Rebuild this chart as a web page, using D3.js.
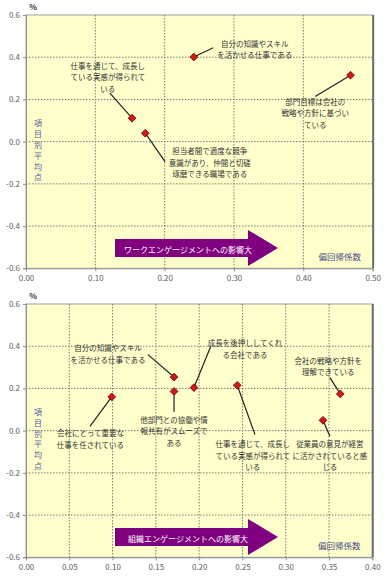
<!DOCTYPE html>
<html><head><meta charset="utf-8">
<script src="https://cdn.jsdelivr.net/npm/d3@7"></script>
<style>body{margin:0;background:#fff}svg{display:block}</style>
</head><body>
<svg id="c" width="388" height="578"></svg>
<script>
// ---- data ----
const topItems = ["自分の知識やスキルを活かせる仕事である","部門目標は会社の戦略や方針に基づいている","仕事を通じて、成長している実感が得られている","担当者間で適度な競争意識があり、仲間と切磋琢磨できる職場である"];
const topCoef = [0.242, 0.468, 0.153, 0.172];
const topScore = [0.401, 0.315, 0.111, 0.040];
const topLabels = [["自分の知識やスキル","を活かせる仕事である"],["部門目標は会社の","戦略や方針に基づい","ている"],["仕事を通じて、成長し","ている実感が得られて","いる"],["担当者間で適度な競争","意識があり、仲間と切磋","琢磨できる職場である"]];

const botItems = ["会社にとって重要な仕事を任されている","自分の知識やスキルを活かせる仕事である","他部門との協働や情報共有がスムーズである","成長を後押ししてくれる会社である","仕事を通じて、成長している実感が得られている","会社の戦略や方針を理解できている","従業員の意見が経営に活かされていると感じる"];
const botCoef = [0.099, 0.171, 0.171, 0.194, 0.244, 0.363, 0.343];
const botScore = [0.160, 0.254, 0.186, 0.204, 0.215, 0.174, 0.049];
const botLabels = [["会社にとって重要な","仕事を任されている"],["自分の知識やスキル","を活かせる仕事である"],["他部門との協働や情","報共有がスムーズで","ある"],["成長を後押ししてくれ","る会社である"],["仕事を通じて、成長し","ている実感が得られて","いる"],["会社の戦略や方針を","理解できている"],["従業員の意見が経営","に活かされていると感","じる"]];

const yTicks = [0.6, 0.4, 0.2, 0.0, -0.2, -0.4, -0.6];
const yTickLabels = ["0.6","0.4","0.2","0.0","-0.2","-0.4","-0.6"];
const topXTicks = [0, 0.1, 0.2, 0.3, 0.4, 0.5];
const botXTicks = [0, 0.05, 0.1, 0.15, 0.2, 0.25, 0.3, 0.35, 0.4];
const yTitle = "項目別平均点";
const xTitle = "偏回帰係数";
const unit = "%";
const topArrowText = "ワークエンゲージメントへの影響大";
const botArrowText = "組織エンゲージメントへの影響大";

// ---- layout (label anchors in data units: [labelX, labelY, leaderEndX, leaderEndY]) ----
const topAnno = [[0.330,0.467,0.270,0.445],[0.417,0.190,0.417,0.214],[0.118,0.361,0.121,0.230],[0.265,-0.044,0.2005,-0.095]];
const botAnno = [[0.0745,-0.011,0.0739,0.020],[0.0947,0.392,0.1409,0.360],[0.171,0.052,0.171,0.090],[0.253,0.4156,0.2133,0.399],[0.262,-0.063,0.2645,-0.019],[0.349,0.332,0.351,0.251],[0.351,-0.063,0.351,-0.027]];

const FONT = "'Noto Sans CJK JP','Noto Sans',sans-serif";
const svg = d3.select("#c").style("font-family", FONT);

function chart(opt){
  const g = svg.append("g");
  const x = d3.scaleLinear().domain(opt.xDomain).range([26, opt.xRight]);
  const y = d3.scaleLinear().domain([-0.6, 0.6]).range([opt.yBottom, opt.yTop]);
  g.append("rect").attr("x", x.range()[0]).attr("y", opt.yTop)
    .attr("width", x.range()[1]-x.range()[0]).attr("height", opt.yBottom-opt.yTop)
    .attr("fill", "#ffffcc").attr("stroke", "#a0a0a0").attr("stroke-width", 1);
  g.append("g").selectAll("line").data(opt.xTicks.slice(1,-1)).join("line")
    .attr("x1", d=>x(d)).attr("x2", d=>x(d)).attr("y1", opt.yTop).attr("y2", opt.yBottom)
    .attr("stroke", "#7a7a7a").attr("stroke-dasharray", "1.5,1.5");
  g.append("g").selectAll("line").data(yTicks.slice(1,-1)).join("line")
    .attr("y1", d=>y(d)).attr("y2", d=>y(d)).attr("x1", x.range()[0]).attr("x2", x.range()[1])
    .attr("stroke", "#7a7a7a").attr("stroke-dasharray", "1.5,1.5");
  g.append("line").attr("x1", x.range()[1]+0.5).attr("x2", x.range()[1]+0.5)
    .attr("y1", opt.yTop).attr("y2", opt.yBottom).attr("stroke", "#707070").attr("stroke-width", 2);
  const ya = d3.axisLeft(y).tickValues(yTicks).tickFormat((d,i)=>yTickLabels[i]).tickSize(3).tickPadding(3);
  const yg = g.append("g").attr("transform", `translate(${x.range()[0]},0)`).call(ya);
  const xa = d3.axisBottom(x).tickValues(opt.xTicks).tickFormat(d3.format(".2f")).tickSize(3).tickPadding(4);
  const xg = g.append("g").attr("transform", `translate(0,${opt.yBottom})`).call(xa);
  [yg, xg].forEach(a => {
    a.select(".domain").attr("stroke", "#909090");
    a.selectAll(".tick line").attr("stroke", "#909090");
    a.selectAll("text").attr("fill", "#606060").style("font-size", "8px").style("font-family", FONT);
  });
  g.append("text").attr("x", 33).attr("y", opt.yTop-5).attr("text-anchor", "middle")
    .attr("fill", "#333").style("font-size", "8px").style("font-weight", "bold").text(unit);
  g.append("g").selectAll("text").data(Array.from(yTitle)).join("text")
    .attr("x", 38).attr("y", (d,i)=> y(opt.yTitleStart) + i*10.8)
    .attr("text-anchor", "middle").attr("dominant-baseline", "central")
    .attr("fill", "#5a5aa0").style("font-size", "8px").text(d=>d);
  g.append("text").attr("x", x.range()[1]-33).attr("y", opt.yBottom-12)
    .attr("text-anchor", "middle").attr("dominant-baseline", "central")
    .attr("fill", "#4a4a86").style("font-size", "8.5px").text(xTitle);
  const ac = opt.arrowY;
  const ar = g.append("g");
  ar.append("path").attr("d", `M115,${ac-9}L248,${ac-9}L248,${ac-18}L278,${ac}L248,${ac+18}L248,${ac+9}L115,${ac+9}Z`)
    .attr("fill", "#800080");
  ar.append("text").attr("x", 188).attr("y", ac+1).attr("text-anchor", "middle").attr("dominant-baseline", "central")
    .attr("fill", "#fff").style("font-size", "8px").text(opt.arrowText);
  g.append("g").selectAll("line").data(opt.coef).join("line")
    .attr("x1", (d,i)=>x(d)).attr("y1", (d,i)=>y(opt.score[i]))
    .attr("x2", (d,i)=>x(opt.anno[i][2])).attr("y2", (d,i)=>y(opt.anno[i][3]))
    .attr("stroke", "#222").attr("stroke-width", 1.2);
  opt.labels.forEach((lines, i) => {
    const t = g.append("text").attr("text-anchor", "middle").attr("fill", "#333")
      .style("font-size", "7.5px");
    lines.forEach((ln, j) => {
      t.append("tspan").attr("x", x(opt.anno[i][0])).attr("y", y(opt.anno[i][1]) + j*11.3)
        .attr("dominant-baseline", "central").text(ln);
    });
  });
  g.append("g").selectAll("path").data(opt.coef).join("path")
    .attr("d", d3.symbol(d3.symbolSquare, 30))
    .attr("transform", (d,i)=>`translate(${x(d)},${y(opt.score[i])}) rotate(45)`)
    .attr("fill", "#d01818").attr("stroke", "#7a0000").attr("stroke-width", 0.8);
}

chart({xDomain:[0,0.5], xRight:372.7, yTop:15, yBottom:268.3, xTicks: topXTicks,
  coef: topCoef, score: topScore, labels: topLabels, anno: topAnno,
  yTitleStart: 0.089, arrowY: 248, arrowText: topArrowText});
chart({xDomain:[0,0.4], xRight:372.3, yTop:304, yBottom:557.3, xTicks: botXTicks,
  coef: botCoef, score: botScore, labels: botLabels, anno: botAnno,
  yTitleStart: 0.091, arrowY: 537, arrowText: botArrowText});
</script>
</body></html>
